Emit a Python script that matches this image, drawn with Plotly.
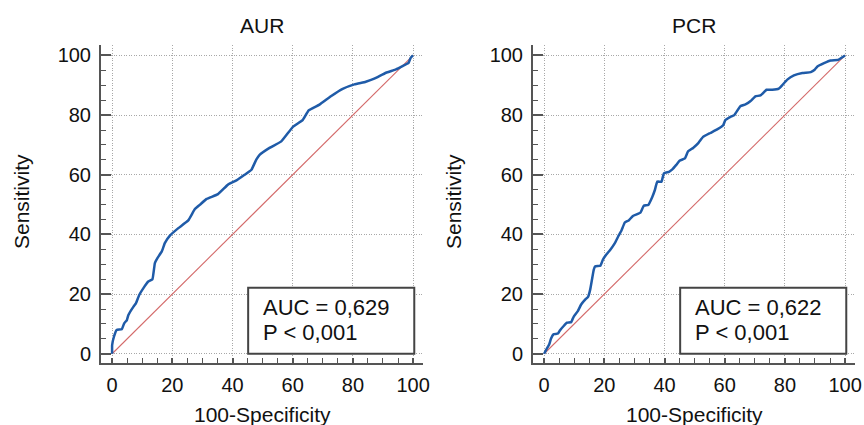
import plotly.graph_objects as go

# ---- data ----
aur_fpr = [0, 0, 0.6, 1.5, 3.2, 4.0, 4.9, 5.4, 7.1, 7.9, 9.0, 10.4, 12.0, 13.4, 14.2, 15.0, 16.5, 17.5,
           19.2, 22.0, 25.3, 27.5, 29.1, 31.4, 35.2, 38.5, 41.3, 44.0, 46.3, 47.9, 49.0, 52.3, 56.2,
           60.0, 63.3, 65.3, 68.9, 72.7, 76.6, 80.5, 84.3, 87.1, 91.0, 94.3, 96.5, 98.5, 99.2, 100]
aur_tpr = [0, 2.9, 5.7, 8.0, 8.2, 10.2, 11.3, 13.0, 15.8, 16.9, 19.7, 22.0, 24.2, 25.0, 30.4, 32.0, 34.3, 37.1,
           39.6, 42.1, 44.7, 48.5, 49.9, 51.9, 53.5, 56.7, 58.1, 60.0, 61.7, 65.1, 66.7, 69.0, 71.2,
           76.0, 78.3, 81.6, 83.5, 86.3, 88.8, 90.3, 91.2, 92.2, 94.2, 95.3, 96.4, 97.5, 99.2, 100]

pcr_fpr = [0, 0.9, 1.7, 2.3, 3.1, 4.6, 5.3, 6.5, 7.6, 9.0, 9.8, 11.2, 12.3, 13.7, 14.6, 15.3, 15.9, 16.5,
           17.0, 18.7, 19.5, 20.6, 22.0, 23.5, 24.6, 25.7, 26.8, 28.1, 29.5, 32.0, 33.1, 34.6, 35.9,
           36.8, 37.6, 39.0, 39.8, 41.5, 42.6, 43.9, 45.0, 46.8, 47.8, 49.5, 51.3, 52.8, 55.2, 57.5,
           59.5, 60.2, 61.9, 63.2, 65.2, 66.9, 68.6, 70.2, 71.9, 73.9, 75.8, 78.0, 79.1, 80.8, 83.0,
           85.8, 88.6, 89.9, 90.8, 93.0, 95.2, 97.7, 99.1, 100]
pcr_tpr = [0, 1.7, 3.2, 5.1, 6.5, 6.8, 7.9, 9.3, 10.4, 10.6, 12.4, 14.3, 16.5, 18.2, 19.1, 21.5, 24.9, 28.2,
           29.3, 29.5, 31.5, 33.2, 34.9, 37.1, 39.3, 41.3, 44.0, 44.7, 46.2, 47.3, 49.6, 49.9, 52.5,
           54.9, 57.7, 57.7, 60.5, 61.0, 61.8, 63.3, 64.7, 65.5, 67.8, 69.0, 70.7, 72.7, 74.0, 75.2,
           76.6, 78.3, 79.4, 80.0, 83.0, 83.6, 84.7, 86.3, 86.6, 88.5, 88.5, 88.9, 90.0, 91.9, 93.3,
           94.1, 94.4, 95.2, 96.3, 97.4, 98.3, 98.5, 99.4, 100]

titles = ["AUR", "PCR"]
auc_texts = ["AUC = 0,629", "AUC = 0,622"]
p_texts = ["P < 0,001", "P < 0,001"]
x_title = "100-Specificity"
y_title = "Sensitivity"
tick_vals = [0, 20, 40, 60, 80, 100]
tick_text = ["0", "20", "40", "60", "80", "100"]
diag = [0, 100]

FONT = "Liberation Sans, Arial, sans-serif"
TXT = "#111111"
BLUE = "#1f5ba8"
RED = "#d46a6a"
W, H = 864, 425

fig = go.Figure()

panels = [
    (aur_fpr, aur_tpr, "x", "y", [101 / W, 423 / W], 21),
    (pcr_fpr, pcr_tpr, "x2", "y2", [533 / W, 855 / W], 453),
]
ydom = [1 - 363 / H, 1 - 45 / H]

for i, (fx, ty, xa, ya, xdom, ytitle_px) in enumerate(panels):
    fig.add_trace(go.Scatter(x=diag, y=diag, mode="lines", xaxis=xa, yaxis=ya,
                             line=dict(color=RED, width=1.1), showlegend=False, hoverinfo="skip"))
    fig.add_trace(go.Scatter(x=fx, y=ty, mode="lines", xaxis=xa, yaxis=ya,
                             line=dict(color=BLUE, width=2.5, shape="spline", smoothing=0.3),
                             showlegend=False))
    sfx = "" if i == 0 else "2"
    common = dict(
        tickvals=tick_vals, ticktext=tick_text, ticks="inside", tickcolor="#555", tickwidth=1.5,
        showline=True, linecolor="#555", linewidth=2, mirror=False,
        showgrid=True, gridcolor="#a8a8a8", griddash="1px,1.5px", gridwidth=1,
        zeroline=False, tickfont=dict(family=FONT, size=20, color=TXT),
        minor=dict(dtick=5, tick0=0, ticks="inside", ticklen=5, tickcolor="#555", tickwidth=1.2, showgrid=False),
        fixedrange=True, automargin=False,
    )
    fig.update_layout({
        "xaxis" + sfx: dict(common, domain=xdom, range=[-3.7, 103.3], anchor="y" + sfx, ticklen=5,
                            ticklabelstandoff=3),
        "yaxis" + sfx: dict(common, domain=ydom, range=[-3.1, 103.5], anchor="x" + sfx, ticklen=10,
                            ticklabelstandoff=4),
    })
    # stats box
    fig.add_shape(type="rect", xref=xa, yref=ya, x0=45.2, x1=100.4, y0=0, y1=22.1,
                  line=dict(color="#444", width=2), fillcolor="white", layer="above")
    fig.add_annotation(xref=xa, yref=ya, x=49.6, y=15.5, xanchor="left", yanchor="middle",
                       text=auc_texts[i], showarrow=False, align="left",
                       font=dict(family=FONT, size=22, color=TXT))
    fig.add_annotation(xref=xa, yref=ya, x=49.6, y=7.1, xanchor="left", yanchor="middle",
                       text=p_texts[i], showarrow=False, align="left",
                       font=dict(family=FONT, size=22, color=TXT))
    # panel title
    fig.add_annotation(xref=xa + " domain", yref="paper", x=0.5, y=1 - 25 / H, xanchor="center",
                       yanchor="middle", text=titles[i], showarrow=False,
                       font=dict(family=FONT, size=21, color=TXT))
    # axis titles
    fig.add_annotation(xref=xa + " domain", yref="paper", x=0.5, y=1 - 414 / H, xanchor="center",
                       yanchor="middle", text=x_title, showarrow=False,
                       font=dict(family=FONT, size=21, color=TXT))
    fig.add_annotation(xref="paper", yref="paper", x=ytitle_px / W, y=1 - 202 / H, xanchor="center",
                       yanchor="middle", text=y_title, showarrow=False, textangle=-90,
                       font=dict(family=FONT, size=21, color=TXT))

fig.update_layout(
    width=W, height=H, margin=dict(l=0, r=0, t=0, b=0, pad=0),
    paper_bgcolor="white", plot_bgcolor="white",
    font=dict(family=FONT, color=TXT),
)

fig.write_html("out.html", config={"displayModeBar": False},
               post_script="document.body.style.margin='0px';document.body.style.overflow='hidden';")
